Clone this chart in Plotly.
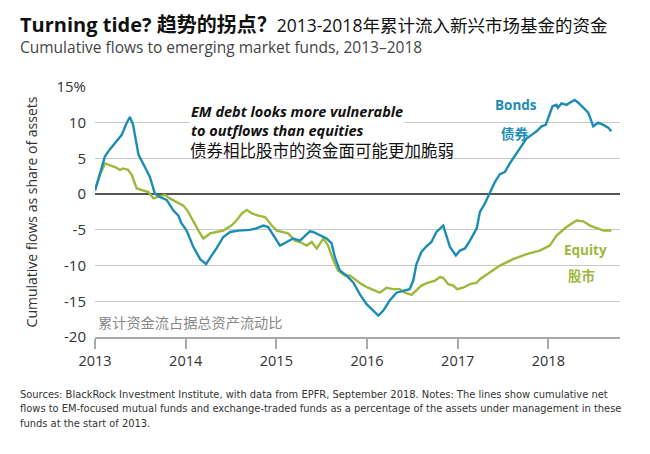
import plotly.graph_objects as go

# ---- data ----
bond_years = [2013.00, 2013.055, 2013.11, 2013.165, 2013.24, 2013.295, 2013.35, 2013.385, 2013.42, 2013.48,
              2013.55, 2013.605, 2013.66, 2013.715, 2013.79, 2013.865, 2013.92, 2013.95, 2014.01, 2014.085,
              2014.16, 2014.225, 2014.285, 2014.34, 2014.415, 2014.49, 2014.58, 2014.635, 2014.71, 2014.78,
              2014.855, 2014.91, 2014.985, 2015.04, 2015.115, 2015.185, 2015.26, 2015.315, 2015.37, 2015.405,
              2015.48, 2015.555, 2015.61, 2015.645, 2015.70, 2015.775, 2015.85, 2015.92, 2015.995, 2016.07,
              2016.125, 2016.18, 2016.25, 2016.325, 2016.40, 2016.47, 2016.51, 2016.545, 2016.60, 2016.655,
              2016.71, 2016.765, 2016.84, 2016.875, 2016.915, 2016.98, 2017.025, 2017.08, 2017.135, 2017.21,
              2017.245, 2017.30, 2017.355, 2017.41, 2017.465, 2017.52, 2017.575, 2017.63, 2017.685, 2017.76,
              2017.815, 2017.87, 2017.925, 2017.97, 2018.00, 2018.045, 2018.09, 2018.105, 2018.145, 2018.20,
              2018.235, 2018.29, 2018.33, 2018.385, 2018.44, 2018.495, 2018.55, 2018.605, 2018.66, 2018.695]
bond_values = [0.5, 3.1, 5.3, 6.3, 7.4, 8.3, 10.0, 10.8, 9.7, 5.5,
               3.8, 2.4, 0.1, -0.4, -0.8, -2.3, -3.0, -4.0, -5.1, -7.4,
               -9.1, -9.8, -8.6, -7.6, -6.0, -5.3, -5.1, -5.1, -5.0, -4.8,
               -4.4, -4.6, -6.2, -7.2, -6.7, -6.2, -6.5, -5.8, -5.2, -5.3,
               -5.8, -6.2, -6.9, -8.8, -10.7, -11.4, -12.4, -14.0, -15.4, -16.3,
               -17.0, -16.3, -14.9, -13.8, -13.5, -13.3, -12.1, -9.8, -8.1, -7.3,
               -6.7, -5.3, -4.4, -5.8, -7.4, -8.6, -7.9, -7.6, -6.5, -4.8,
               -2.5, -1.3, 0.3, 1.7, 2.8, 3.1, 4.3, 5.3, 6.4, 7.8,
               8.3, 8.8, 9.5, 9.7, 10.7, 12.3, 12.5, 12.1, 12.7, 12.5,
               12.8, 13.2, 12.8, 12.1, 11.4, 9.5, 10.0, 9.7, 9.3, 8.8]

equity_years = [2013.00, 2013.055, 2013.11, 2013.165, 2013.22, 2013.275, 2013.31, 2013.365, 2013.405, 2013.46,
                2013.515, 2013.59, 2013.645, 2013.70, 2013.77, 2013.825, 2013.90, 2013.975, 2014.025, 2014.085,
                2014.14, 2014.195, 2014.27, 2014.34, 2014.415, 2014.505, 2014.56, 2014.62, 2014.675, 2014.73,
                2014.80, 2014.875, 2014.95, 2015.005, 2015.075, 2015.13, 2015.205, 2015.26, 2015.335, 2015.39,
                2015.445, 2015.48, 2015.52, 2015.57, 2015.63, 2015.68, 2015.755, 2015.81, 2015.865, 2015.94,
                2016.01, 2016.085, 2016.14, 2016.215, 2016.29, 2016.36, 2016.42, 2016.49, 2016.545, 2016.60,
                2016.675, 2016.75, 2016.805, 2016.84, 2016.895, 2016.95, 2016.995, 2017.06, 2017.135, 2017.21,
                2017.245, 2017.355, 2017.465, 2017.61, 2017.76, 2017.905, 2018.015, 2018.09, 2018.20, 2018.31,
                2018.385, 2018.46, 2018.535, 2018.61, 2018.695]
equity_values = [0.6, 2.7, 4.3, 4.1, 3.8, 3.4, 3.6, 3.4, 2.7, 0.8,
                 0.6, 0.3, -0.6, -0.4, -0.1, -0.6, -1.1, -1.6, -2.4, -3.9,
                 -5.1, -6.2, -5.5, -5.3, -5.1, -4.4, -3.7, -2.7, -2.2, -2.7,
                 -3.0, -3.2, -4.4, -5.1, -5.3, -5.5, -6.5, -6.7, -7.2, -6.7,
                 -7.6, -6.9, -6.2, -7.2, -9.3, -10.7, -11.4, -11.4, -11.9, -12.6,
                 -13.1, -13.5, -13.8, -13.1, -13.3, -13.3, -13.8, -14.1, -13.5, -12.8,
                 -12.4, -12.1, -11.6, -11.7, -12.6, -12.8, -13.3, -13.1, -12.6, -12.4,
                 -11.9, -10.9, -10.0, -9.1, -8.4, -7.9, -7.2, -5.8, -4.6, -3.7,
                 -3.8, -4.4, -4.8, -5.1, -5.1]

year_ticks = [2013, 2014, 2015, 2016, 2017, 2018]
year_labels = ["2013", "2014", "2015", "2016", "2017", "2018"]
y_ticks = [15, 10, 5, 0, -5, -10, -15, -20]
y_labels = ["15%", "10", "5", "0", "-5", "-10", "-15", "-20"]

BOND_C = "#1b8db4"
EQ_C = "#9db83c"
FONT = "Open Sans, Noto Sans CJK SC, sans-serif"
CJK = "Noto Sans CJK SC, sans-serif"

fig = go.Figure()
fig.add_trace(go.Scatter(x=equity_years, y=equity_values, mode="lines",
                         line=dict(color=EQ_C, width=2.4), name="Equity"))
fig.add_trace(go.Scatter(x=bond_years, y=bond_values, mode="lines",
                         line=dict(color=BOND_C, width=2.4), name="Bonds"))

fig.update_layout(
    width=642, height=446,
    margin=dict(l=87, r=30, t=79, b=117),
    paper_bgcolor="white", plot_bgcolor="white",
    showlegend=False,
    font=dict(family=FONT, color="#333"),
    xaxis=dict(range=[2013, 2018.79], tickvals=year_ticks, ticktext=year_labels,
               showgrid=False, zeroline=False, showline=True, linecolor="#aaa", linewidth=1.5,
               ticks="outside", ticklen=10, tickcolor="#aaa", tickwidth=1.5,
               tickfont=dict(size=14.5, color="#333", family=FONT)),
    yaxis=dict(range=[-20, 15], tickvals=y_ticks, ticktext=y_labels,
               showgrid=True, gridcolor="#c8c8c8", gridwidth=1,
               zeroline=True, zerolinecolor="#555", zerolinewidth=2,
               showline=False, ticks="", ticklabelstandoff=8,
               tickfont=dict(size=15, color="#333", family=FONT),
               title=dict(text="Cumulative flows as share of assets", standoff=15,
                          font=dict(size=14, color="#333", family=FONT))),
)

ann = []
# Title and subtitle
ann.append(dict(xref="paper", yref="paper", x=-0.1467, y=1.0, yshift=63, xanchor="left", yanchor="middle",
                text="<b>Turning tide? 趋势的拐点？</b><span style='font-size:17.5px'>2013-2018年累计流入新兴市场基金的资金</span>",
                showarrow=False, font=dict(size=20, color="#111", family=FONT)))
ann.append(dict(xref="paper", yref="paper", x=-0.1467, y=1.0, yshift=40, xanchor="left", yanchor="middle",
                text="Cumulative flows to emerging market funds, 2013–2018",
                showarrow=False, font=dict(size=15.5, color="#444", family=FONT)))
# Main annotation
ann.append(dict(xref="x", yref="y", x=2014.04, y=10.2, xanchor="left", yanchor="middle",
                text="<b><i>EM debt looks more vulnerable<br>to outflows than equities</i></b>",
                align="left", showarrow=False, bgcolor="white", borderpad=1,
                font=dict(size=14.5, color="#111", family=FONT)))
ann.append(dict(xref="x", yref="y", x=2014.03, y=6.2, xanchor="left", yanchor="middle",
                text="债券相比股市的资金面可能更加脆弱", showarrow=False,
                font=dict(size=16.5, color="#111", family=CJK)))
# Series labels
ann.append(dict(xref="x", yref="y", x=2017.64, y=12.5, xanchor="center", yanchor="middle",
                text="<b>Bonds</b>", showarrow=False, font=dict(size=13.5, color=BOND_C, family=FONT)))
ann.append(dict(xref="x", yref="y", x=2017.63, y=8.5, xanchor="center", yanchor="middle",
                text="<b>债券</b>", showarrow=False, font=dict(size=13.5, color=BOND_C, family=CJK)))
ann.append(dict(xref="x", yref="y", x=2018.41, y=-7.8, xanchor="center", yanchor="middle",
                text="<b>Equity</b>", showarrow=False, font=dict(size=13.5, color=EQ_C, family=FONT)))
ann.append(dict(xref="x", yref="y", x=2018.36, y=-11.3, xanchor="center", yanchor="middle",
                text="<b>股市</b>", showarrow=False, font=dict(size=13.5, color=EQ_C, family=CJK)))
ann.append(dict(xref="x", yref="y", x=2013.01, y=-17.9, xanchor="left", yanchor="middle",
                text="累计资金流占据总资产流动比", showarrow=False,
                font=dict(size=14.2, color="#888", family=CJK)))
# Source note
ann.append(dict(xref="paper", yref="paper", x=-0.1467, y=0, yshift=-49, xanchor="left", yanchor="top",
                align="left", showarrow=False,
                text=("Sources: BlackRock Investment Institute, with data from EPFR, September 2018. Notes: The lines show cumulative net<br>"
                      "flows to EM-focused mutual funds and exchange-traded funds as a percentage of the assets under management in these<br>"
                      "funds at the start of 2013."),
                font=dict(size=11, color="#333",
                          family="Liberation Sans Narrow, DejaVu Sans Condensed, Liberation Sans, Arial, sans-serif")))
fig.update_layout(annotations=ann)

fig.write_html("out.html")
